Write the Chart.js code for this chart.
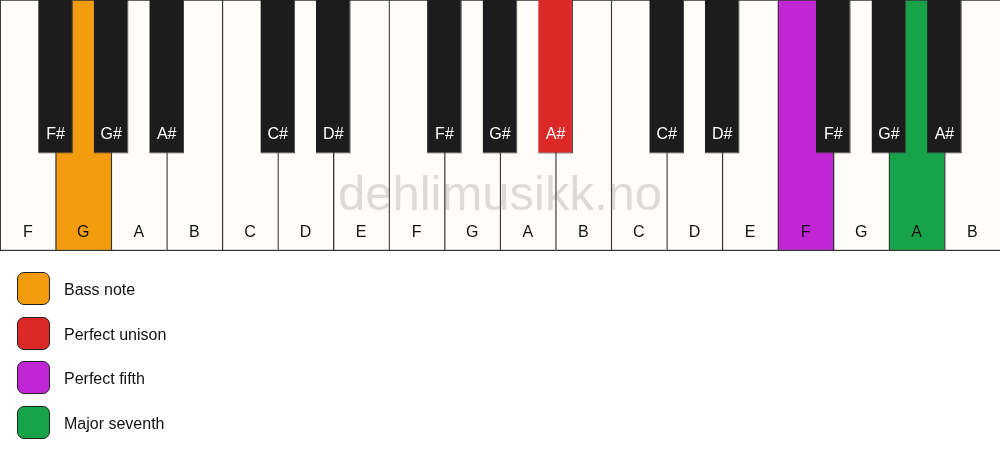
<!DOCTYPE html>
<html>
<head>
<meta charset="utf-8">
<script src="https://cdn.jsdelivr.net/npm/chart.js@4"></script>
<style>
  html, body { margin: 0; padding: 0; background: #ffffff; }
  body { width: 1000px; height: 461px; position: relative; overflow: hidden; font-family: "Liberation Sans", Arial, sans-serif; }
  #wrap { position: absolute; left: 0; top: 0; width: 1000px; height: 251px; }
  #legend { position: absolute; left: 0; top: 0; width: 1000px; height: 461px; pointer-events: none; }
  .item { position: absolute; left: 17px; height: 34px; display: flex; align-items: center; }
  .sw { width: 31px; height: 31px; border: 1.5px solid #222; border-radius: 7px; box-sizing: content-box; }
  .lbl { margin-left: 14px; font-size: 16px; color: #111; padding-top: 2px; }
</style>
</head>
<body>
<div id="wrap"><canvas id="c"></canvas></div>
<div id="legend"></div>
<script>
// ---- data ----
const whiteNotes = ['F','G','A','B','C','D','E','F','G','A','B','C','D','E','F','G','A','B'];
const blackNotes = ['F#','G#','A#','C#','D#','F#','G#','A#','C#','D#','F#','G#','A#'];
const blackPositions = [1, 2, 3, 5, 6, 8, 9, 10, 12, 13, 15, 16, 17];
const roles = ['Bass note', 'Perfect unison', 'Perfect fifth', 'Major seventh'];
const roleColors = ['#F39C0E', '#DD2828', '#C026D3', '#17A34A'];
// highlighted keys: index into whiteNotes / blackNotes -> role index
const whiteHighlights = {1: 0, 14: 2, 16: 3};
const blackHighlights = {7: 1};
const blackKeyStart = 0.388; // fraction of key height where black keys end

const whiteFill = '#FFFDF9';
const blackFill = '#1C1C1C';

const whiteColors = whiteNotes.map((n, i) => (i in whiteHighlights) ? roleColors[whiteHighlights[i]] : whiteFill);
const blackColors = blackNotes.map((n, i) => (i in blackHighlights) ? roleColors[blackHighlights[i]] : blackFill);

const labelPlugin = {
  id: 'keyLabels',
  afterDatasetsDraw(chart) {
    const ctx = chart.ctx;
    const y = chart.scales.y;
    ctx.save();
    // watermark
    ctx.font = '49px "Liberation Sans", Arial, sans-serif';
    ctx.fillStyle = 'rgba(120,120,120,0.25)';
    ctx.textAlign = 'center';
    ctx.textBaseline = 'alphabetic';
    ctx.fillText('dehlimusikk.no', chart.chartArea.left + chart.chartArea.width / 2, 210);
    ctx.restore();

    ctx.save();
    ctx.font = '16px "Liberation Sans", Arial, sans-serif';
    ctx.textAlign = 'center';
    ctx.textBaseline = 'middle';
    const wMeta = chart.getDatasetMeta(0);
    wMeta.data.forEach((el, i) => {
      ctx.fillStyle = '#111111';
      ctx.fillText(whiteNotes[i], el.x, y.getPixelForValue(0.074));
    });
    ctx.restore();
  }
};

const blackLabelPlugin = {
  id: 'blackLabels',
  afterDraw(chart) {
    const ctx = chart.ctx;
    const y = chart.scales.y;
    ctx.save();
    ctx.font = '16px "Liberation Sans", Arial, sans-serif';
    ctx.textAlign = 'center';
    ctx.textBaseline = 'middle';
    const bMeta = chart.getDatasetMeta(1);
    bMeta.data.forEach((el, i) => {
      ctx.fillStyle = '#ffffff';
      ctx.fillText(blackNotes[i], el.x, y.getPixelForValue(0.462));
    });
    ctx.restore();
  }
};

new Chart(document.getElementById('c'), {
  type: 'bar',
  data: {
    labels: whiteNotes,
    datasets: [
      {
        label: 'white',
        data: whiteNotes.map(() => [0, 1]),
        backgroundColor: whiteColors,
        borderColor: '#333333',
        borderWidth: {left: 1.3, right: 0, top: 1, bottom: 1.5},
        borderSkipped: false,
        xAxisID: 'x',
        barPercentage: 1,
        categoryPercentage: 1,
        grouped: false,
        order: 2
      },
      {
        label: 'black',
        data: blackPositions.map((p) => ({x: p, y: [blackKeyStart, 1]})),
        backgroundColor: blackColors,
        borderColor: blackColors.map(c => c === blackFill ? '#4a4a4a' : '#222222'),
        borderWidth: {left: 0, right: 1, top: 0, bottom: 1},
        borderSkipped: false,
        xAxisID: 'x2',
        barPercentage: 0.625,
        categoryPercentage: 1,
        grouped: false,
        order: 1
      }
    ]
  },
  options: {
    responsive: true,
    maintainAspectRatio: false,
    animation: false,
    layout: { padding: 0 },
    plugins: { legend: { display: false }, tooltip: { enabled: false } },
    events: [],
    scales: {
      x: { type: 'category', display: false, offset: true, grid: { display: false } },
      x2: { type: 'linear', display: false, min: 0, max: 18, offset: false, grid: { display: false, offset: false } },
      y: { type: 'linear', display: false, min: 0, max: 1 }
    }
  },
  plugins: [labelPlugin, blackLabelPlugin]
});

// HTML legend
const legend = document.getElementById('legend');
const legendTops = [272, 317, 361, 406];
roles.forEach((r, i) => {
  const item = document.createElement('div');
  item.className = 'item';
  item.style.top = (legendTops[i] - 0.5) + 'px';
  const sw = document.createElement('div');
  sw.className = 'sw';
  sw.style.background = roleColors[i];
  const lb = document.createElement('span');
  lb.className = 'lbl';
  lb.textContent = r;
  item.appendChild(sw);
  item.appendChild(lb);
  legend.appendChild(item);
});
</script>
</body>
</html>
